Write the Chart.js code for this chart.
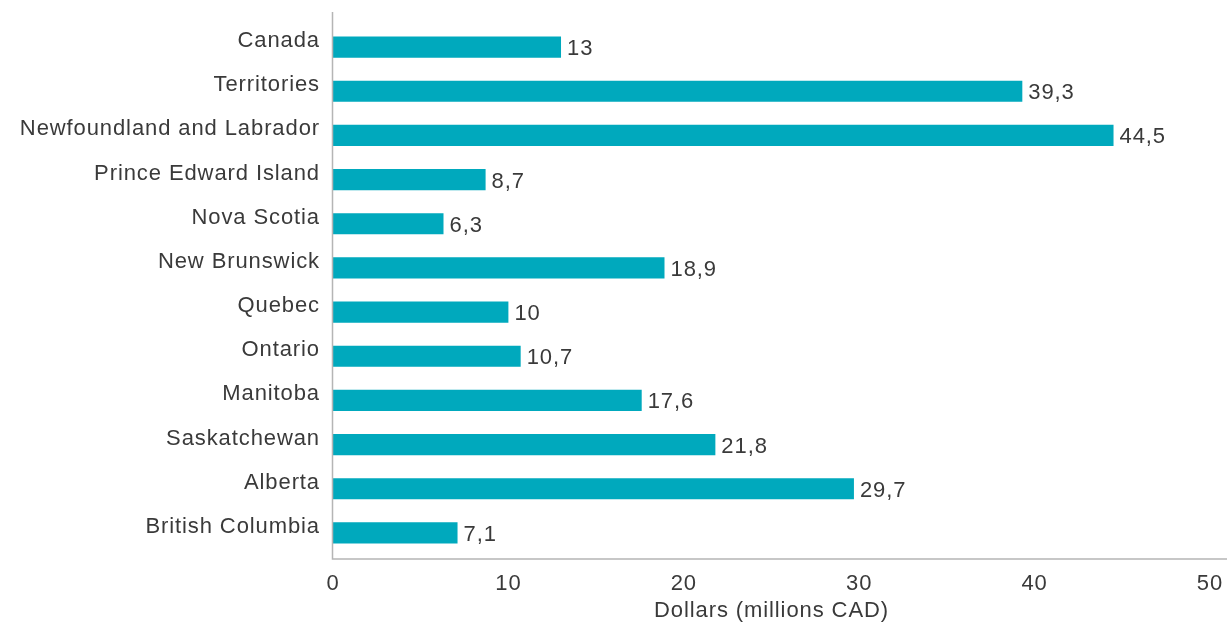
<!DOCTYPE html>
<html>
<head>
<meta charset="utf-8">
<script src="https://cdn.jsdelivr.net/npm/chart.js@4"></script>
<style>
  html, body { margin: 0; padding: 0; background: #fff; }
  #wrap { width: 1227px; height: 623px; position: relative; }
</style>
</head>
<body>
<div id="wrap"><canvas id="c"></canvas></div>
<script>
const categories = ["Canada", "Territories", "Newfoundland and Labrador", "Prince Edward Island", "Nova Scotia", "New Brunswick", "Quebec", "Ontario", "Manitoba", "Saskatchewan", "Alberta", "British Columbia"];
const values = [13, 39.3, 44.5, 8.7, 6.3, 18.9, 10, 10.7, 17.6, 21.8, 29.7, 7.1];
const xTicks = [0, 10, 20, 30, 40, 50];
const xTitle = "Dollars (millions CAD)";

const FONT = "'Liberation Sans', Arial, Helvetica, sans-serif";
const FSIZE = 22;
const TEXT = "#3a3a3a";
const BAR = "#00a9bd";
const AXIS = "#b5b5b5";
const LS = "0.9px";

const fmt = v => String(v).replace(".", ",");

const spacing = {
  id: "spacing",
  beforeUpdate(chart) { chart.ctx.letterSpacing = LS; },
  beforeLayout(chart) { chart.ctx.letterSpacing = LS; },
  beforeDraw(chart) { chart.ctx.letterSpacing = LS; }
};

const axesAndLabels = {
  id: "axesAndLabels",
  afterDatasetsDraw(chart) {
    const ctx = chart.ctx;
    const a = chart.chartArea;
    ctx.save();
    ctx.strokeStyle = AXIS;
    ctx.lineWidth = 1.5;
    ctx.beginPath();
    ctx.moveTo(a.left - 0.5, 12);
    ctx.lineTo(a.left - 0.5, a.bottom + 4);
    ctx.lineTo(chart.width, a.bottom + 4);
    ctx.stroke();
    const meta = chart.getDatasetMeta(0);
    ctx.fillStyle = TEXT;
    ctx.font = FSIZE + "px " + FONT;
    ctx.letterSpacing = LS;
    ctx.textAlign = "left";
    ctx.textBaseline = "middle";
    meta.data.forEach((bar, i) => {
      ctx.fillText(fmt(values[i]), bar.x + 6, bar.y + 2);
    });
    ctx.restore();
  }
};

new Chart(document.getElementById("c"), {
  type: "bar",
  data: {
    labels: categories,
    datasets: [{
      data: values,
      backgroundColor: BAR,
      borderWidth: 0,
      categoryPercentage: 1,
      barPercentage: 0.48
    }]
  },
  options: {
    indexAxis: "y",
    responsive: true,
    maintainAspectRatio: false,
    animation: false,
    layout: { padding: { top: 25, right: 17, bottom: 0, left: 0 } },
    plugins: { legend: { display: false }, tooltip: { enabled: false } },
    scales: {
      x: {
        min: 0, max: 50,
        afterBuildTicks: s => { s.ticks = xTicks.map(v => ({ value: v })); },
        grid: { display: false, drawTicks: false },
        border: { display: false },
        ticks: { color: TEXT, font: { family: FONT, size: FSIZE }, padding: 16, maxRotation: 0 },
        title: { display: true, text: xTitle, color: TEXT, font: { family: FONT, size: FSIZE }, padding: { top: 0, bottom: -1.5 } },
        afterFit: s => { s.height = 68; s.paddingLeft = 0; s.paddingRight = 0; }
      },
      y: {
        grid: { display: false, drawTicks: false },
        border: { display: false },
        ticks: { color: TEXT, font: { family: FONT, size: FSIZE }, padding: 13, labelOffset: -6 },
        afterFit: s => { s.width = 333; s.paddingTop = 0; s.paddingBottom = 0; }
      }
    }
  },
  plugins: [spacing, axesAndLabels]
});
</script>
</body>
</html>
